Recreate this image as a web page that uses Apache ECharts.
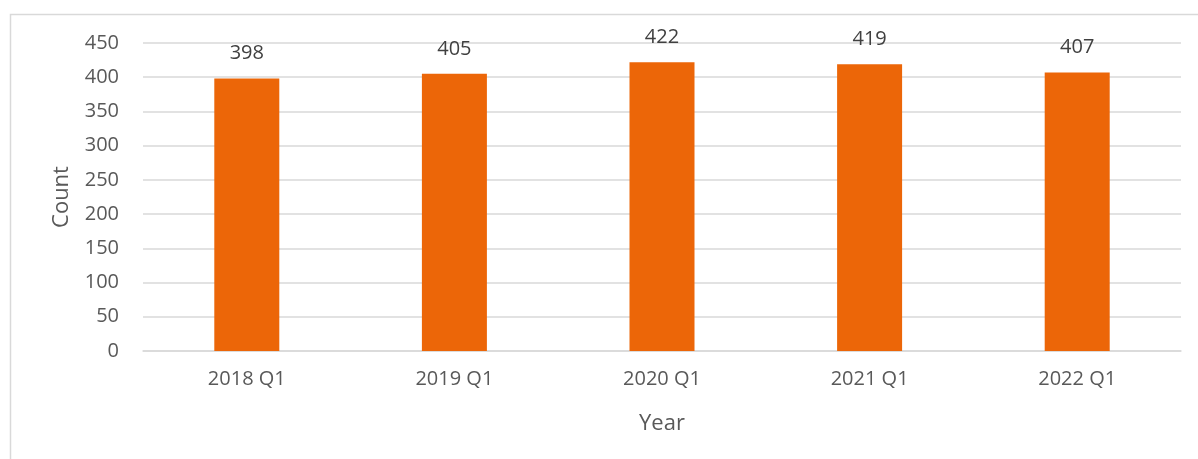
<!DOCTYPE html>
<html>
<head>
<meta charset="utf-8">
<script src="https://cdn.jsdelivr.net/npm/echarts@6/dist/echarts.min.js"></script>
<style>
  html, body { margin: 0; padding: 0; background: #fff; }
  #chart { width: 1198px; height: 459px; }
</style>
</head>
<body>
<div id="chart"></div>
<script>
const categories = ['2018 Q1', '2019 Q1', '2020 Q1', '2021 Q1', '2022 Q1'];
const counts = [398, 405, 422, 419, 407];
const yTicks = { min: 0, max: 450, interval: 50 };

const chart = echarts.init(document.getElementById('chart'));
const font = 'Open Sans, Noto Sans, sans-serif';

chart.setOption({
    animation: false,
    graphic: [
        {
            type: 'rect',
            shape: { x: 10.5, y: 14.5, width: 1400, height: 600 },
            style: { fill: 'none', stroke: '#d9d9d9', lineWidth: 1.5 },
            silent: true
        }
    ],
    grid: {
        left: 143,
        right: 17,
        top: 43,
        bottom: 108
    },
    xAxis: {
        type: 'category',
        data: categories,
        name: 'Year',
        nameLocation: 'middle',
        nameGap: 62,
        nameTextStyle: { color: '#595959', fontSize: 22, fontFamily: font },
        axisLine: { lineStyle: { color: '#d9d9d9', width: 1.5 } },
        axisTick: { show: false },
        axisLabel: { color: '#595959', fontSize: 20, fontFamily: font, margin: 18 }
    },
    yAxis: {
        type: 'value',
        min: yTicks.min,
        max: yTicks.max,
        interval: yTicks.interval,
        name: 'Count',
        nameLocation: 'middle',
        nameGap: 70,
        nameTextStyle: { color: '#595959', fontSize: 22, fontFamily: font },
        axisLine: { show: false },
        axisTick: { show: false },
        axisLabel: { color: '#595959', fontSize: 20, fontFamily: font, margin: 24 },
        splitLine: { lineStyle: { color: '#d9d9d9', width: 1.5 } }
    },
    series: [
        {
            type: 'bar',
            data: counts,
            barWidth: 65,
            itemStyle: { color: '#ec6608' },
            label: {
                show: true,
                position: 'top',
                distance: 15,
                color: '#404040',
                fontSize: 20,
                fontFamily: font
            }
        }
    ]
});
</script>
</body>
</html>
